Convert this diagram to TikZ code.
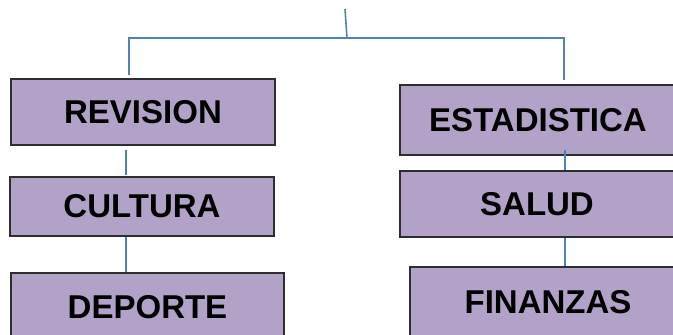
\documentclass[tikz,border=0pt]{standalone}
\usepackage{fontspec}
\setmainfont{Liberation Sans}
\usetikzlibrary{calc}
\definecolor{boxfill}{HTML}{B2A2C7}
\definecolor{boxline}{HTML}{2E2E2E}
\definecolor{connblue}{HTML}{4F81BD}
\tikzset{
  catbox/.style={draw=boxline, line width=1.4pt, fill=boxfill, inner sep=0pt,
    font=\fontsize{33}{37}\selectfont\bfseries, text=black},
  conn/.style={draw=connblue, line width=1.6pt}
}
\begin{document}
\begin{tikzpicture}[x=1pt,y=-1pt]
\useasboundingbox (0,0) rectangle (673,335);
\clip (0,0) rectangle (673,335);
% boxes
\node[catbox, minimum width=264pt, minimum height=66pt] (rev) at (143,112) {REVISION};
\node[catbox, minimum width=264pt, minimum height=59pt] (cul) at (142,206.5) {CULTURA};
\node[catbox, minimum width=273pt, minimum height=68pt] (dep) at (147.5,307) {DEPORTE};
\node[catbox, minimum width=276pt, minimum height=70pt] (est) at (538,120) {ESTADISTICA};
\node[catbox, minimum width=274pt, minimum height=66pt] (sal) at (537,204) {SALUD};
\node[catbox, minimum width=276pt, minimum height=70pt] (fin) at (548,302) {FINANZAS};
% connector coordinates
\coordinate (top) at (345,9);
\coordinate (junc) at (347,38);
\coordinate (lx) at (129,0);
\coordinate (rx) at (564,0);
\coordinate (cl) at (126,0);
\coordinate (cr) at (565,0);
% connectors
\draw[conn] (top) -- (junc);
\draw[conn, shorten <=3pt] ($(rev.north -| lx)$) |- (junc) -| ($(est.north -| rx)+(0,-4)$);
\draw[conn, shorten <=4pt, shorten >=1pt] (rev.south -| cl) -- (cul.north -| cl);
\draw[conn] (cul.south -| cl) -- (dep.north -| cl);
\draw[conn] ($(est.south -| cr)+(0,-6)$) -- (sal.north -| cr);
\draw[conn] (sal.south -| cr) -- (fin.north -| cr);
\end{tikzpicture}
\end{document}
